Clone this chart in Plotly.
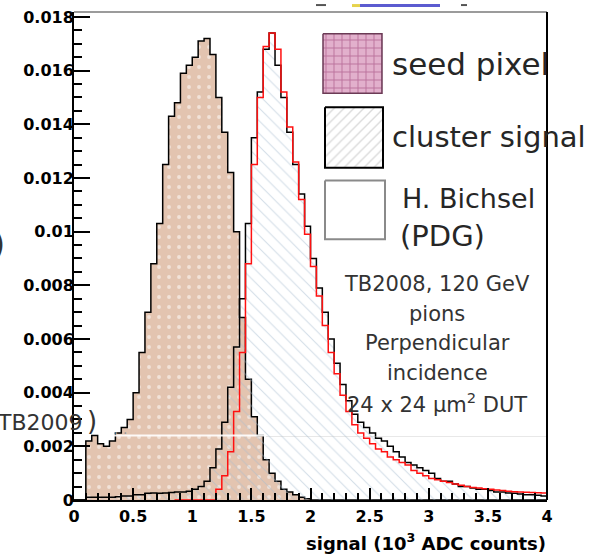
import plotly.graph_objects as go

# ---------------- data ----------------
BIN_WIDTH = 0.05
SEED_START = 0.0
SEED_PIXEL = [
    0, 0, 0.0022, 0.0024, 0.0021, 0.0020, 0.0022, 0.0025, 0.0027, 0.0030,
    0.0040, 0.0055, 0.0070, 0.0088, 0.0103, 0.0125, 0.0143, 0.0148, 0.0159, 0.0162,
    0.0165, 0.0171, 0.0172, 0.0166, 0.0150, 0.0137, 0.0122, 0.0100, 0.0068, 0.0045,
    0.0031, 0.0024, 0.0015, 0.0010, 0.0007, 0.0004, 0.0003, 0.0002, 0.0001, 0.00005,
    0, 0, 0, 0, 0, 0, 0, 0, 0, 0,
    0, 0, 0, 0, 0, 0, 0, 0, 0, 0,
    0, 0, 0, 0, 0, 0, 0, 0, 0, 0,
    0, 0, 0, 0, 0, 0, 0, 0, 0, 0,
]
CLUSTER_START = 0.0
CLUSTER_SIGNAL = [
    0, 0, 0.0001, 0.0001, 0.0001, 0.0001, 0.0001, 0.00012, 0.00015, 0.00015,
    0.0002, 0.0002, 0.00025, 0.00026, 0.00025, 0.00026, 0.00028, 0.0003, 0.0003, 0.00033,
    0.0004, 0.0005, 0.0007, 0.0012, 0.0019, 0.0029, 0.0042, 0.0057, 0.0075, 0.0103,
    0.0135, 0.0152, 0.0168, 0.0174, 0.0162, 0.0150, 0.0137, 0.0125, 0.0114, 0.0102,
    0.0090, 0.0079, 0.0070, 0.0060, 0.0051, 0.0043, 0.0037, 0.0032, 0.0029, 0.0027,
    0.0025, 0.0023, 0.0022, 0.0020, 0.0018, 0.0016, 0.0014, 0.0013, 0.0012, 0.0011,
    0.0010, 0.0008, 0.0007, 0.0007, 0.0006, 0.0005, 0.0005, 0.00045, 0.0004, 0.0004,
    0.00035, 0.0003, 0.0003, 0.00026, 0.00025, 0.00022, 0.0002, 0.0002, 0.00018, 0.00015,
]
BICHSEL_START = 0.85
BICHSEL_PDG = [
    0, 0, 0, 0, 0, 0, 0,
    0.0004, 0.0009, 0.0018, 0.0033, 0.0055, 0.0088, 0.0125, 0.0150, 0.0169, 0.0174,
    0.0168, 0.0152, 0.0139, 0.0126, 0.0112, 0.0099, 0.0087, 0.0076, 0.0065, 0.0055,
    0.0047, 0.0039, 0.0033, 0.0028, 0.0025, 0.0023, 0.0021, 0.0019, 0.0018, 0.0016,
    0.0015, 0.0014, 0.0013, 0.0011, 0.0010, 0.0009, 0.0008, 0.00075, 0.0007, 0.00065,
    0.0006, 0.00055, 0.0005, 0.00047, 0.00045, 0.00042, 0.0004, 0.00037, 0.00035, 0.00033,
    0.00031, 0.0003, 0.00029, 0.00028, 0.00027, 0.00026, 0.00026,
]

X_TICKS = [0, 0.5, 1, 1.5, 2, 2.5, 3, 3.5, 4]
X_TICK_TEXT = ["0", "0.5", "1", "1.5", "2", "2.5", "3", "3.5", "4"]
Y_TICKS = [0, 0.002, 0.004, 0.006, 0.008, 0.01, 0.012, 0.014, 0.016, 0.018]
Y_TICK_TEXT = ["0", "0.002", "0.004", "0.006", "0.008", "0.01", "0.012", "0.014", "0.016", "0.018"]

LEGEND_LABELS = ["seed pixel", "cluster signal", "H. Bichsel", "(PDG)"]
INFO_LINES = ["TB2008, 120 GeV", "pions", "Perpendicular", "incidence", "24 x 24 µm<sup>2</sup> DUT"]
X_TITLE = "<b>signal (10<sup>3</sup> ADC counts)</b>"

# ---------------- geometry ----------------
W, H = 596, 555
ML, MR, MT, MB = 74, 49, 8, 55
PW, PH = W - ML - MR, H - MT - MB
Y_MAX = 0.018185


def pxx(x):
    return (x - ML) / PW


def pxy(y):
    return (H - MB - y) / PH


def steps(start, vals):
    xs = [start + i * BIN_WIDTH for i in range(len(vals) + 1)]
    ys = list(vals) + [vals[-1]]
    return xs, ys


fig = go.Figure()

sx, sy = steps(SEED_START, SEED_PIXEL)
fig.add_trace(go.Scatter(
    x=sx, y=sy, mode="lines", line=dict(shape="hv", color="black", width=1.5),
    fill="tozeroy", fillcolor="#e3c4b0",
    fillpattern=dict(shape=".", bgcolor="#e3c4b0", fgcolor="#ffffff", size=10, solidity=0.12),
    name="seed pixel"))

cx, cy = steps(CLUSTER_START, CLUSTER_SIGNAL)
fig.add_trace(go.Scatter(
    x=cx, y=cy, mode="lines", line=dict(shape="hv", color="black", width=1.5),
    fill="tozeroy", fillcolor="rgba(0,0,0,0)",
    fillpattern=dict(shape="\\", bgcolor="rgba(0,0,0,0)", fgcolor="#a7bccf", size=9, solidity=0.12),
    name="cluster signal"))

bx, by = steps(BICHSEL_START, BICHSEL_PDG)
fig.add_trace(go.Scatter(
    x=bx, y=by, mode="lines", line=dict(shape="hv", color="#ff1010", width=1.5),
    name="H. Bichsel (PDG)"))

# ---- legend swatches (drawn on an overlay axis in pixel units) ----
SWATCHES = [
    dict(x0=323, x1=382, y0=30, y1=90, fill="#e2b0cc",
         pattern=dict(shape="+", bgcolor="#e2b0cc", fgcolor="#93306b", size=8, solidity=0.22),
         line="#6b3a55", lw=1.5),
    dict(x0=325, x1=383, y0=104, y1=165, fill="white",
         pattern=dict(shape="/", bgcolor="white", fgcolor="#b8b8b8", size=7, solidity=0.2),
         line="black", lw=2),
    dict(x0=325, x1=385, y0=178, y1=237, fill="white", pattern=None, line="#8a8a8a", lw=2),
]
for s in SWATCHES:
    tr = go.Scatter(
        x=[s["x0"], s["x1"], s["x1"], s["x0"], s["x0"]],
        y=[s["y0"], s["y0"], s["y1"], s["y1"], s["y0"]],
        mode="lines", fill="toself", fillcolor=s["fill"],
        line=dict(color=s["line"], width=s["lw"]),
        xaxis="x2", yaxis="y2", hoverinfo="skip")
    if s["pattern"]:
        tr.fillpattern = s["pattern"]
    fig.add_trace(tr)

annotations = []


def txt(text, x, y, size, xanchor="left", color="#262626", bold=False):
    annotations.append(dict(
        text=text, x=pxx(x), y=pxy(y), xref="paper", yref="paper",
        xanchor=xanchor, yanchor="middle", showarrow=False,
        font=dict(family="DejaVu Sans", size=size, color=color,
                  weight="bold" if bold else "normal")))


txt(LEGEND_LABELS[0], 390, 60, 31)
txt(LEGEND_LABELS[1], 390, 134, 29)
txt(LEGEND_LABELS[2], 400, 196, 27)
txt(LEGEND_LABELS[3], 398, 234, 29)
for i, line in enumerate(INFO_LINES):
    txt(line, 437, 282 + i * 30, 21, xanchor="center", color="#333333")

txt(X_TITLE, 548, 542, 18, xanchor="right", color="black")
txt("TB2009", 85, 422, 22, xanchor="right", color="#333333")
txt(")", 99, 420, 26, xanchor="right", color="#333333")
txt(". .", 112, 428, 14, color="#999999")
txt(")", 7, 242, 34, xanchor="right", color="#333333")

shapes = [
    # frame: top (grey) and right (black)
    dict(type="line", xref="paper", yref="paper", x0=0, x1=1, y0=1, y1=1,
         line=dict(color="#7a7a7a", width=1.5)),
    dict(type="line", xref="paper", yref="paper", x0=1, x1=1, y0=0, y1=1,
         line=dict(color="black", width=2)),
    # faint slide line crossing the plot
    dict(type="line", xref="paper", yref="paper", x0=pxx(108), x1=pxx(266),
         y0=pxy(435), y1=pxy(435), line=dict(color="rgba(255,255,255,0.9)", width=2)),
    dict(type="line", xref="paper", yref="paper", x0=pxx(266), x1=pxx(546),
         y0=pxy(436), y1=pxy(436), line=dict(color="rgba(190,190,190,0.35)", width=1)),
    # clipped bits of slide content at the top
    dict(type="rect", xref="paper", yref="paper", x0=pxx(352), x1=pxx(360),
         y0=pxy(3), y1=pxy(0), fillcolor="#e6d34c", line=dict(width=0)),
    dict(type="rect", xref="paper", yref="paper", x0=pxx(360), x1=pxx(440),
         y0=pxy(3), y1=pxy(0), fillcolor="#5b5bd0", line=dict(width=0)),
    dict(type="rect", xref="paper", yref="paper", x0=pxx(316), x1=pxx(326),
         y0=pxy(2), y1=pxy(0), fillcolor="#555555", line=dict(width=0)),
    dict(type="rect", xref="paper", yref="paper", x0=pxx(461), x1=pxx(467),
         y0=pxy(2), y1=pxy(0), fillcolor="#555555", line=dict(width=0)),
]

tickfont = dict(family="DejaVu Sans", size=16, color="black", weight="bold")

fig.update_layout(
    width=W, height=H,
    margin=dict(l=ML, r=MR, t=MT, b=MB, pad=0),
    paper_bgcolor="white", plot_bgcolor="white",
    showlegend=False,
    xaxis=dict(
        range=[0, 4], tickmode="array", tickvals=X_TICKS, ticktext=X_TICK_TEXT,
        ticks="inside", ticklen=12, tickwidth=2, tickcolor="black",
        showline=True, linecolor="black", linewidth=2,
        showgrid=False, zeroline=False, tickfont=tickfont, ticklabelstandoff=1,
        minor=dict(tickmode="linear", tick0=0, dtick=0.1, ticks="inside",
                   ticklen=7, tickwidth=1.5, tickcolor="black", showgrid=False)),
    yaxis=dict(
        range=[0, Y_MAX], tickmode="array", tickvals=Y_TICKS, ticktext=Y_TICK_TEXT,
        ticks="inside", ticklen=16, tickwidth=2, tickcolor="black",
        showline=True, linecolor="black", linewidth=2,
        showgrid=False, zeroline=False, tickfont=tickfont, ticklabelstandoff=-5,
        minor=dict(tickmode="linear", tick0=0, dtick=0.0005, ticks="inside",
                   ticklen=8, tickwidth=1.5, tickcolor="black", showgrid=False)),
    xaxis2=dict(range=[ML, W - MR], overlaying="x", anchor="y2", visible=False,
                showgrid=False, zeroline=False),
    yaxis2=dict(range=[H - MB, MT], overlaying="y", anchor="x2", visible=False,
                showgrid=False, zeroline=False),
    annotations=annotations,
    shapes=shapes,
)

fig.write_html("out.html", config={"displayModeBar": False},
               post_script="document.body.style.margin='0';")
